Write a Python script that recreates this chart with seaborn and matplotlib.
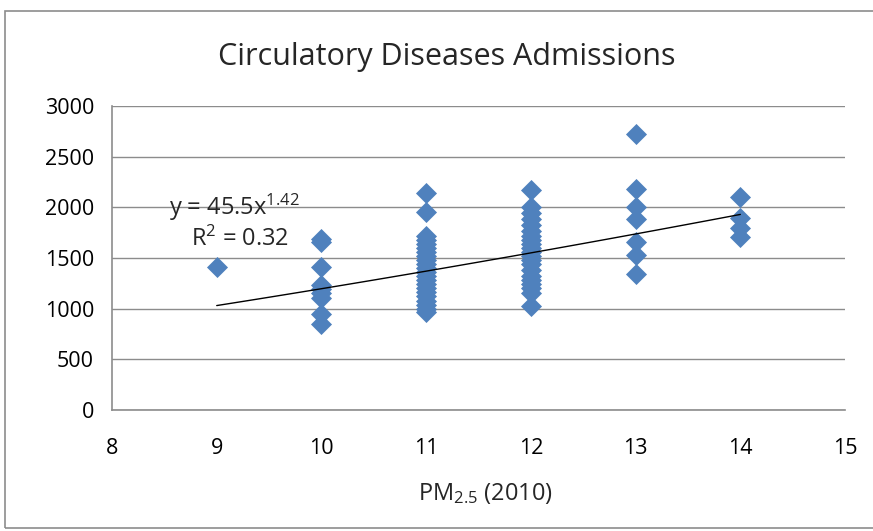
import numpy as np
import pandas as pd
import matplotlib.pyplot as plt
import seaborn as sns
from matplotlib.patches import Rectangle

# PM2.5 level (2010) and circulatory disease admissions
pm_9 = [1410]
pm_10 = [1690, 1660, 1410, 1230, 1190, 1150, 1110, 950, 850]
pm_11 = [2140, 1950, 1720, 1680, 1640, 1600, 1560, 1520, 1480, 1440, 1400,
         1360, 1320, 1280, 1240, 1200, 1160, 1120, 1080, 1040, 1000, 970]
pm_12 = [2170, 2000, 1940, 1880, 1830, 1770, 1720, 1680, 1640, 1600, 1560,
         1520, 1480, 1440, 1380, 1320, 1280, 1240, 1200, 1150, 1030]
pm_13 = [2720, 2180, 2000, 1880, 1660, 1530, 1340]
pm_14 = [2100, 1890, 1800, 1710]

# power trendline y = a * x^b as shown in the chart label
fit_a = 45.5
fit_b = 1.42
fit_r2 = 0.32

groups = {9: pm_9, 10: pm_10, 11: pm_11, 12: pm_12, 13: pm_13, 14: pm_14}
df = pd.DataFrame([(k, v) for k, vals in groups.items() for v in vals],
                  columns=["pm25", "admissions"])

sns.set_style("white")
plt.rcParams["font.family"] = ["Open Sans", "DejaVu Sans"]
plt.rcParams["mathtext.fontset"] = "custom"
plt.rcParams["mathtext.rm"] = "Open Sans"
plt.rcParams["mathtext.it"] = "Open Sans"

fig = plt.figure(figsize=(8.73, 5.31), dpi=100)
ax = fig.add_axes([0.1283, 0.2279, 0.8397, 0.5725])

# outer chart border
fig.patches.append(Rectangle((5 / 873, 3 / 531), 1.0, 517 / 531, transform=fig.transFigure,
                             fill=False, edgecolor="#8c8c8c", linewidth=1.2))

sns.scatterplot(data=df, x="pm25", y="admissions", marker="D", s=115,
                color="#4f81bd", edgecolor="#4f81bd", linewidth=0, ax=ax, zorder=3)

# trendline over the observed x range
xs = np.linspace(df["pm25"].min(), df["pm25"].max(), 100)
ax.plot(xs, fit_a * xs ** fit_b, color="black", linewidth=1, zorder=4)

ax.text(9.17, 2000, r"y = 45.5x$^{1.42}$", fontsize=17, ha="center", va="center", zorder=5)
ax.text(9.22, 1680, r"R$^{2}$ = %.2f" % fit_r2, fontsize=17, ha="center", va="center", zorder=5)

ax.set_xlim(8, 15)
ax.set_ylim(0, 3000)
ax.set_xticks(range(8, 16))
ax.set_yticks(range(0, 3001, 500))
ax.yaxis.grid(True, color="#8c8c8c", linewidth=1)
ax.set_axisbelow(True)

for side in ["top", "right"]:
    ax.spines[side].set_visible(False)
for side in ["left", "bottom"]:
    ax.spines[side].set_color("#8c8c8c")
    ax.spines[side].set_linewidth(1.2)

ax.tick_params(axis="both", direction="out", length=7, width=1.2, color="#8c8c8c",
               labelsize=15.5, labelcolor="black")
ax.tick_params(axis="y", pad=6)
ax.tick_params(axis="x", pad=13)

fig.text(447 / 873, 1 - 57 / 531, "Circulatory Diseases Admissions", fontsize=22,
         ha="center", va="center")
ax.set_xlabel(r"PM$_{2.5}$ (2010)", fontsize=17)
ax.xaxis.set_label_coords(0.51, -0.235)
ax.set_ylabel("")

plt.savefig("out.png", dpi=100)
